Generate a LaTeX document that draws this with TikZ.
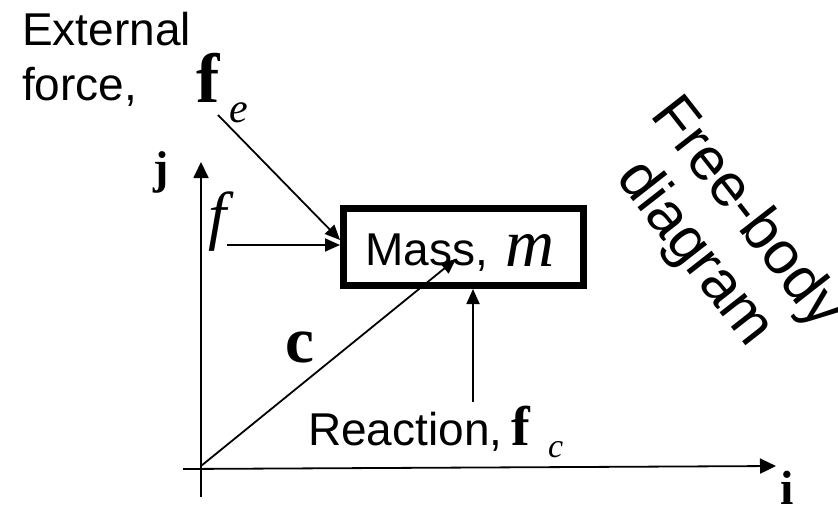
\documentclass[tikz,border=0pt]{standalone}
\usepackage{fontspec}
\setmainfont{Liberation Sans}
\newfontfamily\tms{Liberation Serif}
\usetikzlibrary{arrows.meta}
\tikzset{
  vec/.style={line width=1.8pt,-{Triangle[length=15pt,width=13pt]}},
  axis/.style={line width=1.8pt,-{Triangle[length=16pt,width=15pt]}},
  lbl/.style={inner sep=0pt,anchor=base west,font=\fontsize{46}{55}\selectfont},
  mth/.style={inner sep=0pt,anchor=base west},
}
\begin{document}
\begin{tikzpicture}[x=1pt,y=-1pt]
\useasboundingbox (0,0) rectangle (838,506);
% box
\node[draw,line width=7pt,minimum width=240pt,minimum height=77pt,inner sep=0pt] (box) at (463.5,247) {};
\node[lbl] (masstxt) at (365,265) {Mass,};
\node[mth,font=\tms\itshape\fontsize{68}{70}\selectfont] (mtxt) at (505,266) {m};
% labels
\node[lbl] (ext1) at (22,45) {External};
\node[lbl] (ext2) at (22,100) {force,};
\node[mth,font=\tms\bfseries\fontsize{70}{74}\selectfont] (fe) at (196,102) {f};
\node[mth,font=\tms\itshape\fontsize{42}{50}\selectfont] (fesub) at (229,122) {e};
\node[mth,font=\tms\bfseries\fontsize{46}{50}\selectfont] (jl) at (153,183) {j};
\node[mth,font=\tms\bfseries\fontsize{48}{50}\selectfont] (il) at (780,504) {i};
\node[mth,font=\tms\itshape\fontsize{65}{70}\selectfont] (fl) at (208,237) {f};
\node[mth,font=\tms\bfseries\fontsize{65}{70}\selectfont] (cl) at (285,362) {c};
\node[lbl] (react) at (308,445) {Reaction,};
\node[mth,font=\tms\bfseries\fontsize{56}{60}\selectfont] (fc) at (511,445) {f};
\node[mth,font=\tms\itshape\fontsize{34}{40}\selectfont] (fcsub) at (548,457) {c};
\node[inner sep=0pt,rotate=-52,align=center,font=\fontsize{60}{66}\selectfont] (fbd) at (720,234) {Free-body\\diagram};
% coordinates
\coordinate (O) at (201,466);
\coordinate (jtop) at (201,162);
\coordinate (jbot) at (201,497);
\coordinate (ileft) at (183,469);
\coordinate (iright) at (776,466);
\coordinate (ctip) at (456,259);
\coordinate (fs) at (227,245);
\coordinate (fe1) at (218,115);
\coordinate (fe2) at (340,240);
\coordinate (rs) at (473,402);
% axes
\draw[axis] (jbot) -- (jtop);
\draw[axis] (ileft) -- (iright);
% vectors
\draw[vec] (O) -- (ctip);
\draw[vec] (fs) -- (fs -| box.west) ;
\draw[vec] (fe1) -- (fe2);
\draw[vec] (rs) -- (rs |- box.south);
\end{tikzpicture}
\end{document}
